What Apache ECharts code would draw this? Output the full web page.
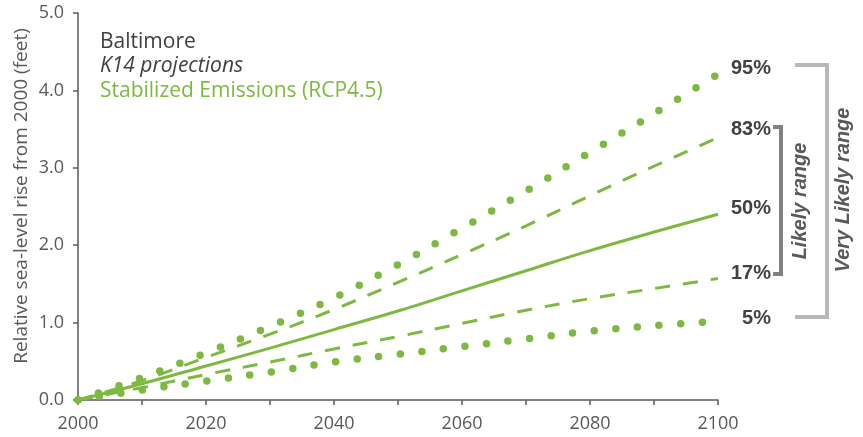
<!DOCTYPE html>
<html>
<head>
<meta charset="utf-8">
<script src="https://cdn.jsdelivr.net/npm/echarts@6/dist/echarts.min.js"></script>
<style>html,body{margin:0;padding:0;background:#fff;}#c{width:863px;height:437px;}</style>
</head>
<body>
<div id="c"></div>
<script>
var years = [2000, 2010, 2020, 2030, 2040, 2050, 2060, 2070, 2080, 2090, 2100];
var p95 = [0, 0.29, 0.61, 0.95, 1.32, 1.75, 2.22, 2.70, 3.20, 3.70, 4.21];
var p83 = [0, 0.25, 0.55, 0.85, 1.17, 1.52, 1.88, 2.25, 2.64, 3.02, 3.39];
var p50 = [0, 0.21, 0.44, 0.67, 0.91, 1.15, 1.41, 1.67, 1.93, 2.17, 2.40];
var p17 = [0, 0.16, 0.33, 0.49, 0.66, 0.82, 0.99, 1.16, 1.31, 1.44, 1.57];
var p05 = [0, 0.13, 0.245, 0.36, 0.49, 0.59, 0.69, 0.79, 0.89, 0.96, 1.02];
var yTicks = [0, 1, 2, 3, 4, 5];
var xLabelYears = [2000, 2020, 2040, 2060, 2080, 2100];
var pctLabels = ['95%', '83%', '50%', '17%', '5%'];

var green = '#7db941';
var axisColor = '#595959';
function pairs(v){ return years.map(function(y,i){ return [y, v[i]]; }); }

var chart = echarts.init(document.getElementById('c'));
function mkSeries(name, vals, style){
  return { name: name, type: 'line', data: pairs(vals), smooth: 0.4, symbol: 'none',
           lineStyle: style, z: 3, silent: true };
}
var dotted = { color: green, width: 7.5, type: [0, 21.7], cap: 'round' };
var dashed = { color: green, width: 3, type: [15, 13] };
var solid = { color: green, width: 3, type: 'solid' };

var labelFont = 'Liberation Sans, Arial, sans-serif';
var txtFont = 'Open Sans, Noto Sans, sans-serif';
var pctY = [68, 129, 208, 273, 318];

var graphics = [
  { type: 'text', x: 100, y: 42, style: { text: 'Baltimore', fill: '#404040', font: '21px ' + txtFont, verticalAlign: 'middle' } },
  { type: 'text', x: 100, y: 66, style: { text: 'K14 projections', fill: '#404040', font: 'italic 21px ' + txtFont, verticalAlign: 'middle' } },
  { type: 'text', x: 100, y: 91, style: { text: 'Stabilized Emissions (RCP4.5)', fill: green, font: '21px ' + txtFont, verticalAlign: 'middle' } },
  { type: 'text', x: 22, y: 196, rotation: Math.PI / 2,
    style: { text: 'Relative sea-level rise from 2000 (feet)', fill: axisColor, font: '19px ' + txtFont, align: 'center', verticalAlign: 'middle' } },
  // very likely bracket
  { type: 'polyline', shape: { points: [[795, 65], [827, 65], [827, 317], [795, 317]] },
    style: { stroke: '#b6b8ba', lineWidth: 4, fill: null } },
  // likely bracket
  { type: 'polyline', shape: { points: [[773, 127], [781, 127], [781, 274], [773, 274]] },
    style: { stroke: '#7f8184', lineWidth: 4, fill: null } },
  { type: 'text', x: 800, y: 201, rotation: Math.PI / 2,
    style: { text: 'Likely range', fill: '#58595b', font: 'italic bold 20px ' + labelFont, align: 'center', verticalAlign: 'middle' } },
  { type: 'text', x: 843, y: 190, rotation: Math.PI / 2,
    style: { text: 'Very Likely range', fill: '#58595b', font: 'italic bold 20px ' + labelFont, align: 'center', verticalAlign: 'middle' } }
];
pctLabels.forEach(function(t, i){
  graphics.push({ type: 'text', x: 771, y: pctY[i],
    style: { text: t, fill: '#414042', font: 'bold 20px ' + labelFont, align: 'right', verticalAlign: 'middle' } });
});

chart.setOption({
  animation: false,
  backgroundColor: '#fff',
  grid: { left: 78, right: 145, top: 13, bottom: 37, containLabel: false },
  xAxis: {
    type: 'value', min: 2000, max: 2100, interval: 10,
    axisLine: { show: true, lineStyle: { color: axisColor, width: 1.5 } },
    axisTick: { show: true, length: 5, lineStyle: { color: axisColor, width: 1.5 } },
    splitLine: { show: false },
    axisLabel: { color: axisColor, fontSize: 18, fontFamily: txtFont, margin: 15,
      formatter: function(v){ return xLabelYears.indexOf(v) >= 0 ? String(v) : ''; } }
  },
  yAxis: {
    type: 'value', min: yTicks[0], max: yTicks[yTicks.length - 1], interval: 1,
    axisLine: { show: true, lineStyle: { color: axisColor, width: 1.5 } },
    axisTick: { show: true, length: 5, lineStyle: { color: axisColor, width: 1.5 } },
    splitLine: { show: false },
    axisLabel: { color: axisColor, fontSize: 18, fontFamily: txtFont, margin: 14,
      formatter: function(v){ return v.toFixed(1); } }
  },
  series: [
    mkSeries('95%', p95, dotted),
    mkSeries('83%', p83, dashed),
    mkSeries('50%', p50, solid),
    mkSeries('17%', p17, dashed),
    mkSeries('5%', p05, dotted)
  ],
  graphic: graphics
});
</script>
</body>
</html>
